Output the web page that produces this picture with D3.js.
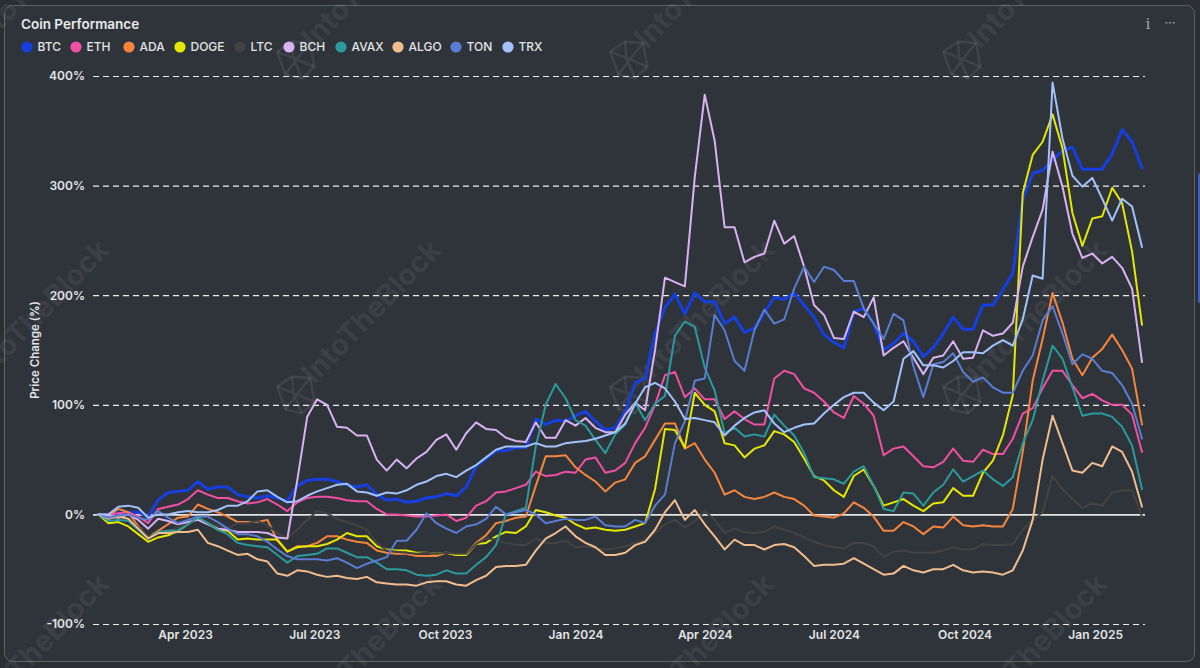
<!DOCTYPE html>
<html>
<head>
<meta charset="utf-8">
<script src="https://cdn.jsdelivr.net/npm/d3@7/dist/d3.min.js"></script>
<style>
html,body{margin:0;padding:0;background:#2b2f34;}
svg{display:block;font-family:Inter,Roboto,sans-serif;}
</style>
</head>
<body>
<svg id="chart" width="1200" height="668"></svg>
<script>
const title = "Coin Performance";
const yTitle = "Price Change (%)";
const coins = ["BTC","ETH","ADA","DOGE","LTC","BCH","AVAX","ALGO","TON","TRX"];
const coinColors = ["#163fe0","#f04fa4","#f6853d","#e4e800","#434343","#d9b2f2","#2a9a9c","#f0bd8e","#5a7cd2","#a3c2fb"];
const yTicks = [-100,0,100,200,300,400];
const firstWeek = "2023-01-30";

const BTC = [0,0,1,2,2,-2,13,20,21,22,30,23,25,25,18,16,15,17,15,12,26,31,32,32,30,27,25,27,18,13,14,11,12,15,16,19,17,25,44,51,58,58,61,61,87,82,86,85,90,94,85,77,79,94,120,124,165,189,201,183,202,194,194,174,180,166,170,184,198,196,202,191,180,164,157,152,185,188,174,150,156,165,158,144,152,165,180,169,169,191,191,205,220,287,311,314,323,332,335,315,315,315,329,351,340,316];
const ETH = [0,0,1,2,-2,-8,5,7,9,14,22,18,15,15,12,10,11,14,9,3,11,15,16,16,15,13,12,12,5,0,0,-1,-2,-2,-1,0,-6,-3,8,12,20,21,24,27,39,35,36,39,38,50,52,38,40,47,65,79,100,127,130,107,115,105,105,87,94,87,82,82,124,131,128,115,111,103,93,88,108,101,90,54,60,62,53,44,43,48,60,49,48,59,55,55,69,92,97,115,131,131,118,106,110,104,100,100,91,57];
const ADA = [0,-1,5,2,-11,-21,-15,-9,-3,-2,9,5,2,-2,-7,-7,-7,-5,-24,-34,-29,-29,-26,-20,-20,-23,-25,-26,-33,-35,-36,-36,-38,-38,-38,-35,-37,-36,-26,-19,-8,-6,-3,-2,26,53,53,54,43,36,30,21,29,32,47,53,68,83,83,60,65,50,38,18,22,16,14,16,20,16,14,8,-1,-2,-3,1,11,6,-2,-15,-15,-7,-11,-18,-11,-12,-2,-10,-11,-10,-11,-11,5,57,122,160,202,175,142,127,143,151,164,150,133,82];
const DOGE = [0,-8,-7,-11,-18,-25,-21,-19,-15,-9,-3,-8,-14,-15,-23,-22,-23,-23,-23,-34,-30,-29,-29,-27,-23,-17,-20,-20,-29,-32,-33,-33,-35,-35,-36,-35,-37,-37,-27,-26,-20,-16,-17,-11,4,2,-1,-3,-9,-13,-12,-14,-15,-14,-11,-8,23,78,77,61,111,100,94,65,63,52,60,63,76,73,66,51,35,31,22,16,35,41,26,8,11,14,8,3,10,11,24,17,17,38,49,72,109,293,328,340,365,334,275,245,270,272,298,284,240,173];
const LTC = [0,-3,-4,-4,-12,-20,-18,-15,-12,-9,-4,-7,-11,-13,-8,-8,-6,-10,-17,-22,-14,-5,3,1,-4,-7,-10,-14,-26,-33,-34,-35,-36,-35,-36,-35,-36,-36,-27,-22,-23,-26,-28,-28,-22,-26,-26,-24,-30,-29,-31,-32,-31,-29,-26,-23,-17,-9,-5,-12,-6,3,-5,-17,-13,-16,-17,-16,-11,-14,-17,-21,-25,-28,-30,-31,-26,-26,-29,-39,-34,-33,-35,-35,-35,-33,-30,-32,-32,-27,-28,-28,-27,-14,-5,2,35,23,14,6,10,8,20,22,22,-2];
const BCH = [0,-1,-3,0,-5,-13,-4,-6,-9,-7,-5,-9,-13,-14,-16,-16,-16,-17,-21,-22,31,89,105,100,80,79,72,72,50,40,50,42,51,57,68,73,59,74,84,78,77,70,67,66,84,70,70,86,81,88,79,75,75,91,102,95,150,216,212,208,308,383,341,262,262,230,235,238,268,247,254,226,191,182,161,160,185,180,198,145,152,158,143,128,143,145,158,142,143,168,163,165,175,226,253,278,331,299,256,234,238,229,235,225,206,139];
const AVAX = [0,-6,-5,-6,-14,-22,-16,-15,-15,-9,-3,-8,-14,-18,-26,-28,-29,-30,-37,-44,-38,-37,-36,-31,-31,-35,-39,-39,-44,-50,-50,-51,-55,-56,-55,-51,-54,-54,-46,-39,-28,0,3,6,62,100,119,106,86,81,68,56,73,82,102,86,101,108,163,176,171,134,113,74,79,71,73,71,91,81,72,56,34,33,32,28,39,44,26,5,3,20,19,8,20,27,41,30,35,40,32,26,34,65,86,122,154,142,116,90,92,92,89,80,63,23];
const ALGO = [0,-4,-2,-4,-13,-22,-17,-17,-16,-16,-14,-26,-29,-33,-37,-36,-41,-43,-54,-56,-51,-52,-55,-57,-56,-58,-59,-57,-62,-63,-64,-64,-65,-62,-61,-61,-64,-65,-60,-56,-48,-47,-47,-46,-33,-22,-17,-11,-20,-26,-30,-37,-37,-35,-28,-25,-14,2,13,-5,4,-9,-20,-32,-23,-28,-28,-32,-28,-27,-30,-38,-47,-46,-46,-45,-40,-45,-50,-55,-54,-47,-51,-53,-50,-50,-46,-51,-53,-52,-53,-55,-51,-33,-5,50,90,65,40,38,47,44,62,57,39,7];
const TON = [0,-3,-1,0,-3,-5,3,-3,-8,-5,-2,-2,-7,-13,-18,-18,-20,-25,-32,-38,-41,-41,-41,-42,-40,-44,-49,-45,-42,-39,-24,-24,-14,1,-8,-13,-17,-11,-9,-4,7,0,2,4,0,-8,-6,-4,-5,-5,-2,-10,-11,-11,-5,-8,8,18,65,85,122,124,182,168,140,131,168,187,174,178,206,226,212,226,223,213,213,188,174,160,183,177,135,107,137,139,147,130,121,125,116,111,111,131,145,177,190,165,137,146,142,131,129,118,101,69];
const TRX = [0,0,7,8,6,-3,0,0,2,3,2,2,4,8,8,12,21,22,16,11,12,17,21,24,27,28,21,20,17,20,19,22,27,30,35,37,34,40,45,52,59,62,62,62,65,62,62,65,66,67,69,72,75,83,101,116,120,115,103,87,88,86,84,72,81,88,93,95,83,75,79,82,83,92,100,107,111,111,102,95,103,142,149,136,136,134,140,148,148,147,154,159,154,178,218,215,394,343,309,299,307,288,268,288,281,244];
const seriesValues = [BTC,ETH,ADA,DOGE,LTC,BCH,AVAX,ALGO,TON,TRX];

const svg = d3.select("#chart");
const parse = d3.utcParse("%Y-%m-%d");
const start = parse(firstWeek);
const dates = BTC.map((_, i) => d3.utcDay.offset(start, i * 7));

const x = d3.scaleUtc().domain(d3.extent(dates)).range([98.5, 1142]);
const y = d3.scaleLinear().domain([-100, 400]).range([624, 76]);

// Panel
svg.append("rect").attr("width",1200).attr("height",668).attr("fill","#2b2f34");
svg.append("rect").attr("x",4.5).attr("y",5.5).attr("width",1190).attr("height",656).attr("rx",8)
  .attr("fill","#2f343a").attr("stroke","#5e6368").attr("stroke-width",1);
svg.append("rect").attr("x",1198).attr("y",173).attr("width",4).attr("height",130).attr("rx",2).attr("fill","#3f5fc0");

// Watermarks
const wm = svg.append("g").attr("class","watermarks");
const cols = [-35, 297, 630, 963], rows = [60, 395, 729];
rows.forEach(ry => cols.forEach(cx => {
  const g = wm.append("g").attr("transform", `translate(${cx},${ry}) rotate(-15)`)
    .attr("fill","none").attr("stroke","#ffffff").attr("stroke-opacity",0.08).attr("stroke-width",2.5);
  g.append("path").attr("d","M-17,-13L0,-19L17,-13L15,11L0,19L-15,11Z");
  g.append("path").attr("d","M-17,-13L-3,-3L15,11M17,-13L3,-3L-15,11M0,-19L-3,-3L0,19");
  wm.append("text").attr("transform",`translate(${cx+17},${ry-10}) rotate(-46)`)
    .attr("font-size",29).attr("font-weight",700).attr("fill","#ffffff").attr("fill-opacity",0.075)
    .text("IntoTheBlock");
}));

// Grid
const grid = svg.append("g");
yTicks.forEach(t => {
  const zero = t === 0;
  grid.append("line").attr("x1",93).attr("x2",1145).attr("y1",y(t)+.5).attr("y2",y(t)+.5)
    .attr("stroke", zero ? "#e4e4e4" : "#ececec")
    .attr("stroke-width", zero ? 1.6 : 1.2)
    .attr("stroke-dasharray", zero ? null : "6,4");
});

// Axes
const yAxis = svg.append("g").attr("transform","translate(85,0)")
  .call(d3.axisLeft(y).tickValues(yTicks).tickSize(0).tickPadding(0).tickFormat(d => d + "%"));
const xAxis = svg.append("g").attr("transform","translate(0,628)")
  .call(d3.axisBottom(x).ticks(d3.utcMonth.every(3)).tickSize(0).tickPadding(2).tickFormat(d3.utcFormat("%b %Y")));
[xAxis, yAxis].forEach(a => {
  a.select(".domain").remove();
  a.selectAll("text").attr("fill","#e2e4e6").attr("font-family","Inter,Roboto,sans-serif")
    .attr("font-size",12).attr("font-weight",600);
});
xAxis.selectAll(".tick").filter(d => d < parse("2023-03-01")).remove();

svg.append("text").attr("transform","translate(39,350) rotate(-90)").attr("text-anchor","middle")
  .attr("font-size",11.5).attr("font-weight",600).attr("fill","#e2e4e6").text(yTitle);

// Lines
const line = d3.line().x((d, i) => x(dates[i])).y(d => y(d)).curve(d3.curveLinear);
const lines = svg.append("g").attr("fill","none").attr("stroke-linejoin","round").attr("stroke-linecap","round");
seriesValues.forEach((vals, i) => {
  lines.append("path").datum(vals).attr("d", line)
    .attr("stroke", coinColors[i])
    .attr("stroke-width", i === 0 ? 3 : 2);
});

// Title and legend
svg.append("text").attr("x",21).attr("y",29).attr("font-size",13.5).attr("font-weight",600)
  .attr("fill","#e8eaec").text(title);
const legendX = [27,76,129,180,240,289,341,398,456,508];
const legend = svg.append("g");
coins.forEach((c, i) => {
  legend.append("circle").attr("cx",legendX[i]).attr("cy",47).attr("r",5.6).attr("fill",coinColors[i]);
  legend.append("text").attr("x",legendX[i]+10.5).attr("y",51).attr("font-size",12).attr("font-weight",500)
    .attr("fill","#e2e4e6").text(c);
});

// Toolbar
svg.append("text").attr("x",1148).attr("y",29).attr("text-anchor","middle").attr("font-size",14)
  .attr("font-family","DejaVu Serif").attr("fill","#a9adb2").text("i");
svg.append("text").attr("x",1170).attr("y",27).attr("text-anchor","middle").attr("font-size",13)
  .attr("fill","#a9adb2").text("···");
</script>
</body>
</html>
